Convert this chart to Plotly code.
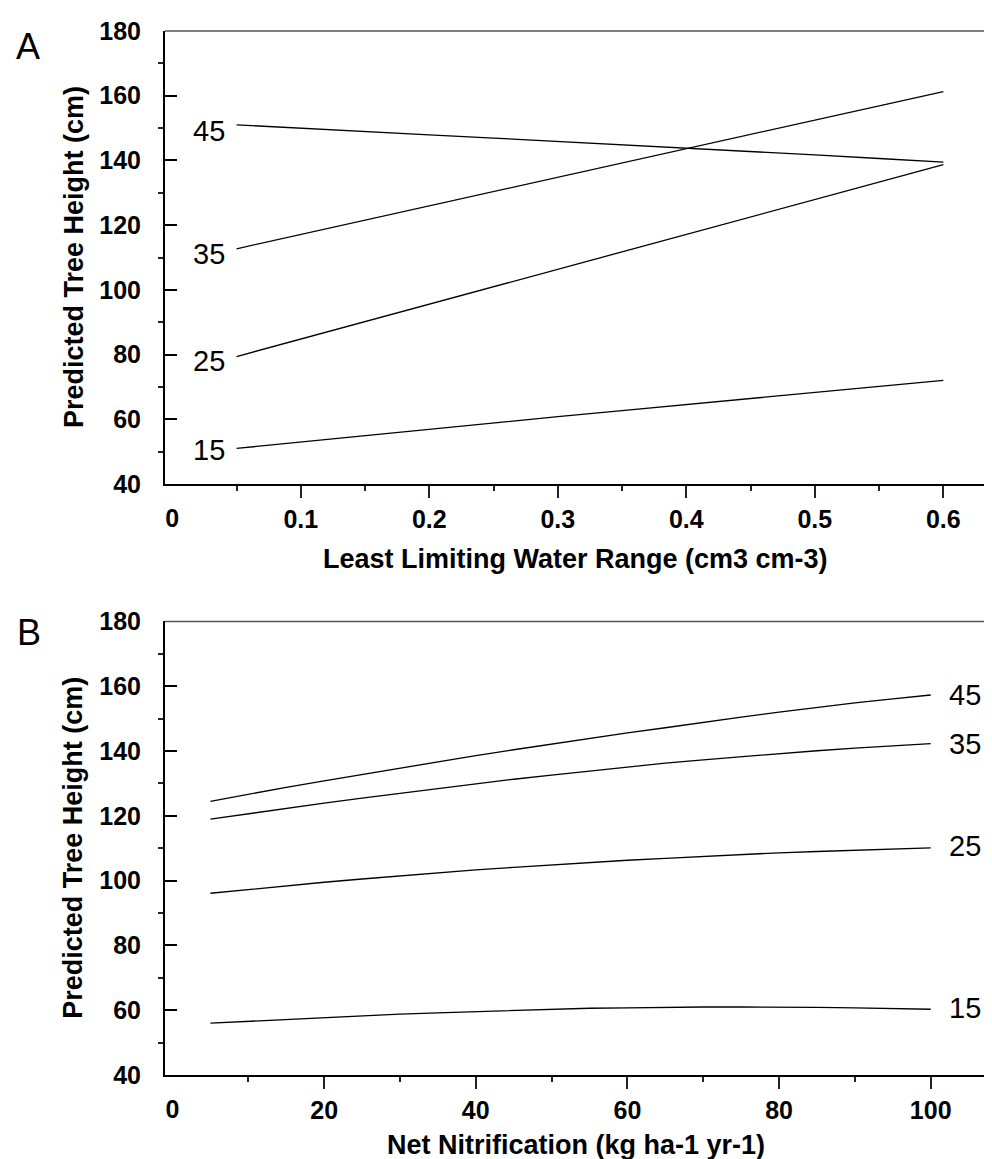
import plotly.graph_objects as go

# ---------------- data ----------------
# Panel A: Least Limiting Water Range (cm3 cm-3)
llwr_x = [0.05, 0.10, 0.15, 0.20, 0.25, 0.30, 0.35, 0.40, 0.45, 0.50, 0.55, 0.60]
llwr_h15 = [51.0, 53.0, 55.0, 57.0, 58.9, 60.8, 62.7, 64.6, 66.4, 68.3, 70.1, 72.0]
llwr_h25 = [79.4, 84.8, 90.2, 95.6, 101.0, 106.4, 111.7, 117.1, 122.5, 127.9, 133.3, 138.7]
llwr_h35 = [112.7, 117.1, 121.5, 126.0, 130.4, 134.8, 139.2, 143.6, 148.1, 152.5, 156.9, 161.3]
llwr_h45 = [151.0, 149.9, 148.9, 147.9, 146.9, 145.9, 144.8, 143.8, 142.8, 141.7, 140.6, 139.5]

# Panel B: Net Nitrification (kg ha-1 yr-1)
nitr_x = [5, 10, 15, 20, 25, 30, 35, 40, 45, 50, 55, 60, 65, 70, 75, 80, 85, 90, 95, 100]
nitr_h15 = [56.0, 56.6, 57.2, 57.7, 58.3, 58.8, 59.2, 59.6, 60.0, 60.3,
            60.6, 60.7, 60.9, 61.0, 61.0, 61.0, 60.9, 60.7, 60.5, 60.3]
nitr_h25 = [96.1, 97.3, 98.4, 99.5, 100.5, 101.5, 102.4, 103.3, 104.1, 104.9,
            105.6, 106.3, 106.9, 107.5, 108.1, 108.6, 109.0, 109.4, 109.8, 110.1]
nitr_h35 = [119.0, 120.7, 122.3, 123.9, 125.5, 127.0, 128.5, 129.9, 131.3, 132.6,
            133.9, 135.1, 136.3, 137.3, 138.3, 139.2, 140.1, 140.9, 141.6, 142.3]
nitr_h45 = [124.5, 126.7, 128.8, 130.8, 132.8, 134.8, 136.7, 138.6, 140.4, 142.2,
            143.9, 145.6, 147.2, 148.9, 150.5, 152.0, 153.5, 154.9, 156.1, 157.3]

series_labels = ["15", "25", "35", "45"]

y_ticks = [40, 60, 80, 100, 120, 140, 160, 180]
y_minor = [50, 70, 90, 110, 130, 150, 170]
xa_ticks = [0.1, 0.2, 0.3, 0.4, 0.5, 0.6]
xa_minor = [0.05, 0.15, 0.25, 0.35, 0.45, 0.55]
xb_ticks = [20, 40, 60, 80, 100]
xb_minor = [10, 30, 50, 70, 90]

# ---------------- styling ----------------
FONT = "Liberation Sans, Arial, Helvetica, sans-serif"
tickfont = dict(family=FONT, size=25, color="black", weight="bold")
titlefont = dict(family=FONT, size=27, color="black", weight="bold")
numfont = dict(family=FONT, size=29, color="black")
panelfont = dict(family=FONT, size=36, color="black")
LINE = dict(color="black", width=1.3)

fig = go.Figure()

a_series = [llwr_h15, llwr_h25, llwr_h35, llwr_h45]
b_series = [nitr_h15, nitr_h25, nitr_h35, nitr_h45]

for ys in a_series:
    fig.add_trace(go.Scatter(x=llwr_x, y=ys, mode="lines", line=LINE,
                             xaxis="x", yaxis="y", showlegend=False, hoverinfo="skip"))
for ys in b_series:
    fig.add_trace(go.Scatter(x=nitr_x, y=ys, mode="lines", line=LINE,
                             xaxis="x2", yaxis="y2", showlegend=False, hoverinfo="skip"))
# empty traces so the overlay axes carrying the "0" label are drawn
fig.add_trace(go.Scatter(x=[None], y=[None], xaxis="x3", yaxis="y", showlegend=False, hoverinfo="skip"))
fig.add_trace(go.Scatter(x=[None], y=[None], xaxis="x4", yaxis="y2", showlegend=False, hoverinfo="skip"))


def xaxis_cfg(rng, ticks, minor, anchor):
    return dict(
        domain=[0, 1], anchor=anchor, range=rng,
        tickmode="array", tickvals=ticks, ticktext=[f"{t:g}" for t in ticks],
        ticks="outside", ticklen=12, tickwidth=1.5, tickcolor="#222",
        minor=dict(tickmode="array", tickvals=minor, ticks="outside",
                   ticklen=5, tickwidth=1.5, tickcolor="#222"),
        showline=True, linecolor="black", linewidth=2,
        showgrid=False, zeroline=False, tickfont=tickfont,
        ticklabelstandoff=0,
    )


def zero_cfg(rng, over, anchor):
    return dict(
        overlaying=over, anchor=anchor, range=rng, side="bottom",
        tickmode="array", tickvals=[0], ticktext=["0"],
        ticks="outside", ticklen=12, tickwidth=1.5, tickcolor="rgba(0,0,0,0)",
        showline=False, showgrid=False, zeroline=False, tickfont=tickfont,
        ticklabelstandoff=0,
    )


def yaxis_cfg(domain, anchor):
    return dict(
        domain=domain, anchor=anchor, range=[40, 180],
        tickmode="array", tickvals=y_ticks, ticktext=[str(t) for t in y_ticks],
        ticks="inside", ticklen=12, tickwidth=1.5, tickcolor="black",
        minor=dict(tickmode="array", tickvals=y_minor, ticks="outside",
                   ticklen=5, tickwidth=1.5, tickcolor="#222"),
        showline=True, linecolor="black", linewidth=2,
        showgrid=False, zeroline=False, tickfont=tickfont,
        ticklabelstandoff=17,
    )


xa_range = [-0.0057, 0.6441]
xb_range = [-0.99, 109.14]

fig.update_layout(
    width=992, height=1159,
    margin=dict(l=157, r=0, t=23, b=92),
    paper_bgcolor="white", plot_bgcolor="white",
    xaxis=xaxis_cfg(xa_range, xa_ticks, xa_minor, "y"),
    yaxis=yaxis_cfg([0.5661, 1.0], "x"),
    xaxis2=xaxis_cfg(xb_range, xb_ticks, xb_minor, "y2"),
    yaxis2=yaxis_cfg([0.0, 0.4344], "x2"),
    xaxis3=zero_cfg(xa_range, "x", "y"),
    xaxis4=zero_cfg(xb_range, "x2", "y2"),
)

# top border (no right border in the original)
for xr, yr in [("x domain", "y domain"), ("x2 domain", "y2 domain")]:
    fig.add_shape(type="line", xref=xr, yref=yr, x0=0, x1=1, y0=1, y1=1,
                  line=dict(color="#555", width=1.5))

ann = []
# axis titles
ann.append(dict(text="Least Limiting Water Range (cm3 cm-3)", xref="paper", yref="paper",
                x=0.492, y=0.4945, xanchor="center", yanchor="middle", showarrow=False, font=titlefont))
ann.append(dict(text="Net Nitrification (kg ha-1 yr-1)", xref="paper", yref="paper",
                x=0.492, y=-0.0668, xanchor="center", yanchor="middle", showarrow=False, font=titlefont))
for yc in [0.783, 0.2172]:
    ann.append(dict(text="Predicted Tree Height (cm)", xref="paper", yref="paper",
                    x=-0.1095, y=yc, xanchor="center", yanchor="middle", textangle=-90,
                    showarrow=False, font=titlefont))
# panel letters
ann.append(dict(text="A", xref="paper", yref="paper", x=-0.1645, y=0.9850,
                xanchor="center", yanchor="middle", showarrow=False, font=panelfont))
ann.append(dict(text="B", xref="paper", yref="paper", x=-0.1633, y=0.4234,
                xanchor="center", yanchor="middle", showarrow=False, font=panelfont))

# curve labels, panel A (left of the line starts)
a_shift = [-2, -4, -5, -6]
for lab, ys, sh in zip(series_labels, a_series, a_shift):
    ann.append(dict(text=lab, xref="x", yref="y", x=llwr_x[0], y=ys[0],
                    xanchor="right", yanchor="middle", xshift=-10, yshift=sh,
                    showarrow=False, font=numfont))
# curve labels, panel B (right of the line ends)
b_shift = [1, 2, 0, 0]
for lab, ys, sh in zip(series_labels, b_series, b_shift):
    ann.append(dict(text=lab, xref="x2", yref="y2", x=nitr_x[-1], y=ys[-1],
                    xanchor="left", yanchor="middle", xshift=16, yshift=sh,
                    showarrow=False, font=numfont))

fig.update_layout(annotations=ann)

fig.write_html("out.html")
